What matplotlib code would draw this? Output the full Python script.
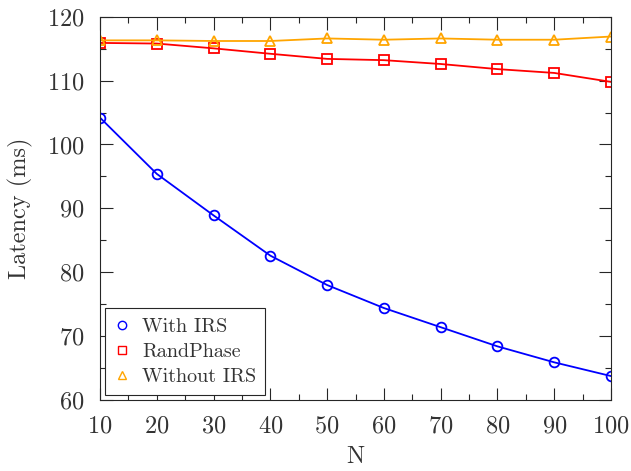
import matplotlib
matplotlib.use("Agg")
import matplotlib.pyplot as plt
from matplotlib.lines import Line2D
from matplotlib.ticker import MultipleLocator

plt.rcParams["font.family"] = "cmr10"
plt.rcParams["axes.formatter.use_mathtext"] = True
plt.rcParams["mathtext.fontset"] = "cm"

N = [10, 20, 30, 40, 50, 60, 70, 80, 90, 100]
with_irs = [104.2, 95.4, 88.9, 82.6, 78.0, 74.4, 71.4, 68.4, 65.9, 63.75]
rand_phase = [115.9, 115.8, 115.05, 114.2, 113.4, 113.2, 112.6, 111.8, 111.2, 109.8]
without_irs = [116.3, 116.3, 116.2, 116.2, 116.6, 116.4, 116.6, 116.4, 116.4, 116.9]

series = [
    ("With IRS", with_irs, "#0000ff", "o"),
    ("RandPhase", rand_phase, "#ff0000", "s"),
    ("Without IRS", without_irs, "#ffa500", "^"),
]

fig = plt.figure(figsize=(6.31, 4.71), dpi=100)
ax = fig.add_axes([0.1585, 0.1507, 0.8098, 0.8138])

handles = []
for label, vals, color, marker in series:
    ax.plot(N, vals, color=color, linewidth=1.3, marker=marker,
            markersize=7, markerfacecolor="none", markeredgewidth=1.3)
    handles.append(Line2D([], [], linestyle="none", marker=marker, color=color,
                          markersize=6, markerfacecolor="none", markeredgewidth=1.0,
                          label=label))

ax.set_xlim(10, 100)
ax.set_ylim(60, 120)
ax.xaxis.set_major_locator(MultipleLocator(10))
ax.xaxis.set_minor_locator(MultipleLocator(5))
ax.yaxis.set_major_locator(MultipleLocator(10))
ax.yaxis.set_minor_locator(MultipleLocator(5))
ax.tick_params(which="both", direction="in", top=True, right=True,
               colors="#262626", labelcolor="#333333", width=0.8)
ax.tick_params(which="major", length=9, labelsize=17.5, pad=11)
ax.tick_params(which="minor", length=4.5)
for sp in ax.spines.values():
    sp.set_color("#262626")
    sp.set_linewidth(0.8)

ax.set_xlabel("N", fontsize=17.5, color="#333333", labelpad=6)
ax.set_ylabel("Latency (ms)", fontsize=17.5, color="#333333", labelpad=10)

leg = ax.legend(handles=handles, loc="lower left", fontsize=14.5, fancybox=False,
                edgecolor="#262626", framealpha=1, borderaxespad=0.25,
                handlelength=0.8, handletextpad=0.6, labelspacing=0.35,
                borderpad=0.45)
leg.get_frame().set_linewidth(0.8)
for t in leg.get_texts():
    t.set_color("#333333")

fig.savefig("out.png", dpi=100)
